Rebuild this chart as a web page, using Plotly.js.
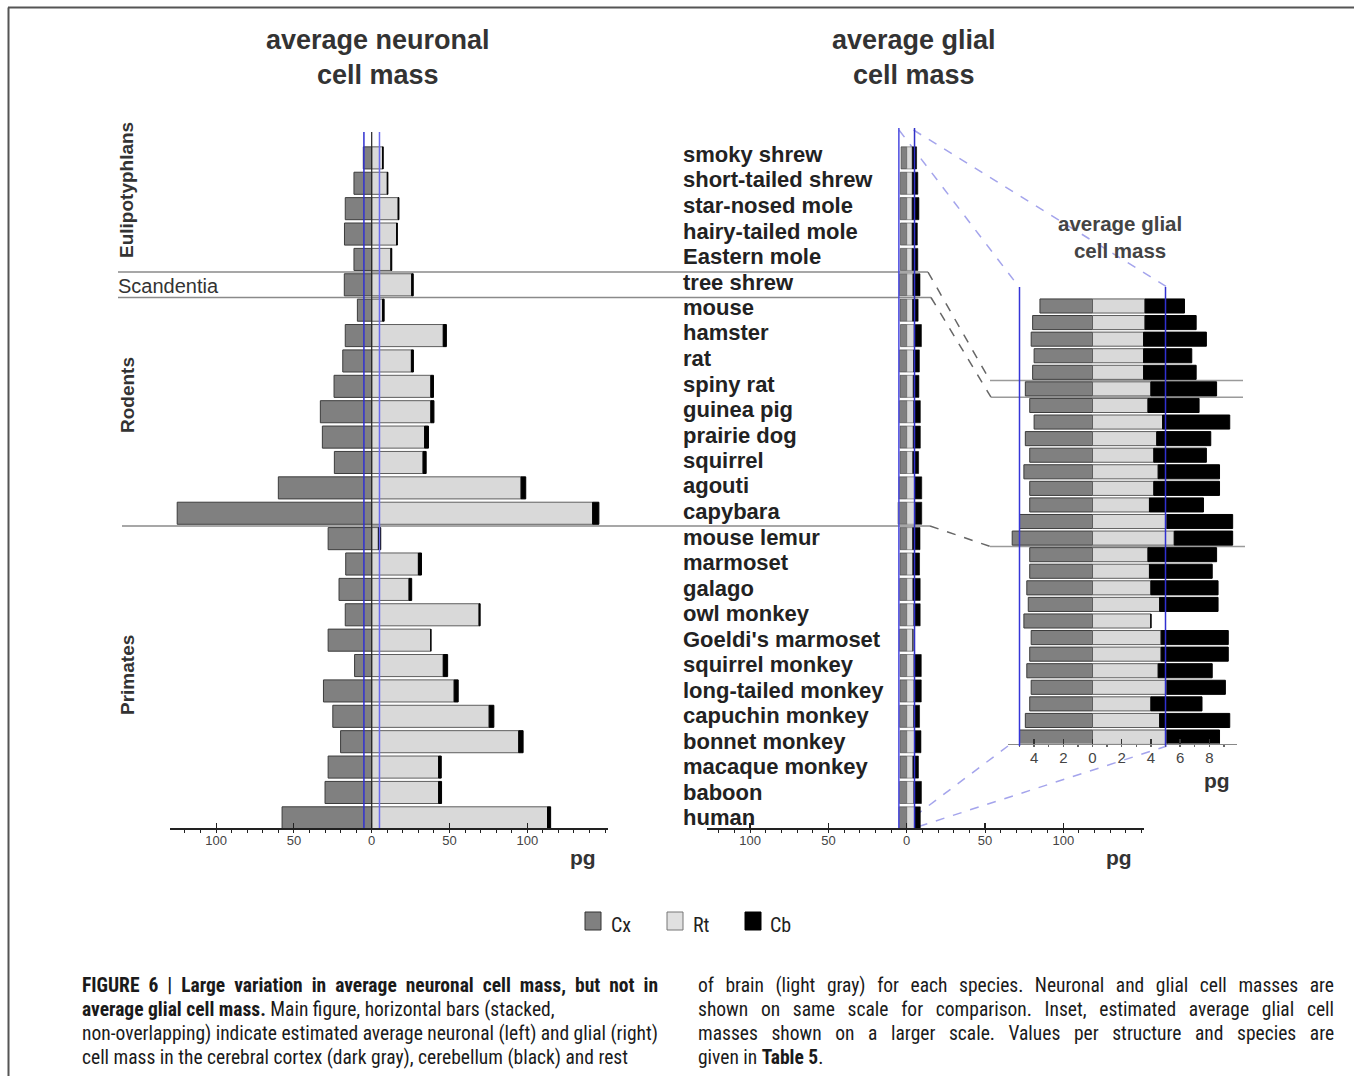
<!DOCTYPE html>
<html>
<head>
<meta charset="utf-8">
<script src="https://cdn.plot.ly/plotly-3.0.1.min.js"></script>
<style>
html,body{margin:0;padding:0;background:#fff;}
#chart{width:1354px;height:1076px;}
</style>
</head>
<body>
<div id="chart"></div>
<script>
// ---------------- DATA ----------------
const species = ['smoky shrew','short-tailed shrew','star-nosed mole','hairy-tailed mole','Eastern mole',
  'tree shrew','mouse','hamster','rat','spiny rat','guinea pig','prairie dog','squirrel','agouti','capybara',
  'mouse lemur','marmoset','galago','owl monkey',"Goeldi's marmoset",'squirrel monkey','long-tailed monkey',
  'capuchin monkey','bonnet monkey','macaque monkey','baboon','human'];

// average neuronal cell mass (pg)
const neuronCx = [5.4,11.4,17.0,17.5,11.4,17.6,9.2,17.0,18.6,24.2,33.0,31.7,24.0,60.0,125.0,28.0,16.7,21.0,17.0,28.0,11.0,31.0,25.0,20.0,28.0,30.0,57.6];
const neuronRt = [7.0,10.0,17.0,16.0,12.3,25.7,7.0,46.0,25.5,38.0,38.0,34.0,33.0,96.0,142.0,4.3,30.0,24.0,69.0,38.0,46.0,53.0,75.5,94.5,43.0,43.0,113.0];
const neuronCb = [0.4,0.4,0.5,0.5,0.6,1.0,1.0,2.0,1.3,1.7,2.0,2.5,2.0,3.0,4.0,1.5,2.0,1.7,0.7,0,2.8,2.6,3.0,2.8,1.7,1.9,2.0];

// average glial cell mass (pg)
const glialCx = [3.6,4.1,4.2,4.0,4.1,4.6,4.3,4.0,4.6,4.3,4.7,4.3,4.3,5.0,5.5,4.3,4.3,4.5,4.4,4.7,4.2,4.3,4.5,4.2,4.3,4.6,5.0];
const glialRt = [3.6,3.6,3.5,3.5,3.5,4.0,3.8,4.8,4.4,4.2,4.5,4.2,3.9,5.1,5.6,3.8,3.9,4.0,4.6,4.0,4.7,4.7,4.5,5.1,4.0,4.6,5.1];
const glialCb = [2.7,3.5,4.3,3.3,3.6,4.5,3.5,4.6,3.7,3.6,4.2,4.5,3.7,4.5,4.0,4.7,4.3,4.6,4.0,0,4.6,4.6,3.7,4.0,3.5,4.8,3.6];

const groups = [
  {name:'Eulipotyphlans', first:0, last:4},
  {name:'Scandentia', first:5, last:5},
  {name:'Rodents', first:6, last:14},
  {name:'Primates', first:15, last:26}
];

const mainTickVals = [-100,-50,0,50,100];
const mainTickText = ['100','50','0','50','100'];
const insetTickVals = [-4,-2,0,2,4,6,8];
const insetTickText = ['4','2','0','2','4','6','8'];
const legendNames = ['Cx','Rt','Cb'];
const zoomLimit = 5;   // the +/- 5 pg band shown in the inset

const captionLeft = [
  '<b>FIGURE 6 | Large variation in average neuronal cell mass, but not in</b>',
  '<b>average glial cell mass.</b> Main figure, horizontal bars (stacked,',
  'non-overlapping) indicate estimated average neuronal (left) and glial (right)',
  'cell mass in the cerebral cortex (dark gray), cerebellum (black) and rest'
];
const captionRight = [
  'of brain (light gray) for each species. Neuronal and glial cell masses are',
  'shown on same scale for comparison. Inset, estimated average glial cell',
  'masses shown on a larger scale. Values per structure and species are',
  'given in <b>Table 5</b>.'
];
const justifyLeft = [true,false,true,false];
const justifyRight = [true,true,true,false];

// ---------------- GEOMETRY / STYLE ----------------
const W = 1354, H = 1076;
const px = x => x / W;
const py = y => 1 - y / H;
const rows = species.map((s, i) => i);

const SANS = 'Liberation Sans, Arial, Helvetica, sans-serif';
const NARROW = 'Liberation Sans Narrow, Arial Narrow, Roboto Condensed, Liberation Sans, sans-serif';

const MAIN_TOP = 132, MAIN_BOT = 828, MAIN_RANGE = [26.4, -1.02];
const INSET_TOP = 287, INSET_BOT = 743.5, INSET_RANGE = [26.39, -1.146];
const mainRowY = p => MAIN_TOP + (p - MAIN_RANGE[1]) / (MAIN_RANGE[0] - MAIN_RANGE[1]) * (MAIN_BOT - MAIN_TOP);
const insetRowY = p => INSET_TOP + (p - INSET_RANGE[1]) / (INSET_RANGE[0] - INSET_RANGE[1]) * (INSET_BOT - INSET_TOP);

const COL_CX = '#808080', COL_CX_LINE = '#3c3c3c';
const COL_RT = '#d9d9d9', COL_RT_LINE = '#5e5e5e';
const COL_CB = '#000000';

function stack(cx, rt, cb, xa, ya, width, lw) {
  const common = {type:'bar', orientation:'h', y:rows, xaxis:xa, yaxis:ya, width:width, hoverinfo:'skip', showlegend:false};
  return [
    Object.assign({}, common, {name:legendNames[0], x:cx.map(v => -v), marker:{color:COL_CX, line:{color:COL_CX_LINE, width:lw}}}),
    Object.assign({}, common, {name:legendNames[1], x:rt, marker:{color:COL_RT, line:{color:COL_RT_LINE, width:lw}}}),
    Object.assign({}, common, {name:legendNames[2], x:cb, marker:{color:COL_CB, line:{color:COL_CB, width:lw}}})
  ];
}

const data = [].concat(
  stack(neuronCx, neuronRt, neuronCb, 'x', 'y', 0.87, 1),
  stack(glialCx, glialRt, glialCb, 'x2', 'y2', 0.87, 0.6),
  stack(glialCx, glialRt, glialCb, 'x3', 'y3', 0.85, 1)
);

function mainX(domL, domR, zeroPx, scale, anchor) {
  return {
    domain:[px(domL), px(domR)], range:[(domL - zeroPx) / scale, (domR - zeroPx) / scale], anchor:anchor,
    showline:true, linecolor:'#222', linewidth:1.5, showgrid:false, zeroline:false,
    ticks:'inside', ticklen:5, tickwidth:1.2, tickcolor:'#222',
    tickmode:'array', tickvals:mainTickVals, ticktext:mainTickText,
    tickfont:{family:SANS, size:13, color:'#444'},
    minor:{tickmode:'linear', tick0:0, dtick:10, ticks:'outside', ticklen:3, tickcolor:'#222', tickwidth:1, showgrid:false},
    fixedrange:true
  };
}
const mainYAxis = {domain:[py(MAIN_BOT), py(MAIN_TOP)], range:MAIN_RANGE, visible:false, fixedrange:true};

// ---------------- SHAPES ----------------
const shapes = [];
function seg(x0, y0, x1, y1, color, width, dash, layer) {
  shapes.push({type:'line', xref:'paper', yref:'paper', x0:px(x0), y0:py(y0), x1:px(x1), y1:py(y1),
    line:{color:color, width:width, dash:dash || 'solid'}, layer:layer || 'above'});
}
// frame (top + left)
seg(8, 7.5, W, 7.5, '#555', 2);
seg(8.5, 7.5, 8.5, H, '#555', 2);

// group separator lines (tree shrew block and rodent/primate split)
const sepLines = [
  {p:groups[1].first - 0.5, xl:118, xm:928, xi:990, xr:1243},
  {p:groups[1].last + 0.5, xl:118, xm:931, xi:991, xr:1243},
  {p:groups[3].first - 0.5, xl:122, xm:930, xi:990, xr:1245}
];
sepLines.forEach(s => {
  const ym = mainRowY(s.p), yi = insetRowY(s.p);
  seg(s.xl, ym, s.xm, ym, '#8a8a8a', 1.5, 'solid', 'below');
  seg(s.xm, ym, s.xi, yi, '#666', 1.5, 'dash', 'below');
  seg(s.xi, yi, s.xr, yi, '#9a9a9a', 1.5, 'solid', 'below');
});

// lavender zoom connector lines
const LAV = '#a4a4ec';
seg(913.5, 130, 1167, INSET_TOP, LAV, 1.5, 'dash', 'below');
seg(899, 130, 1019, INSET_TOP, LAV, 1.5, 'dash', 'below');
seg(1008, 746, 899, 828, LAV, 1.5, 'dash', 'below');
seg(1167, 746, 914, 828, LAV, 1.5, 'dash', 'below');

// +/- 5 pg band markers
function band(xref, y0, y1, cL, cR) {
  shapes.push({type:'line', xref:xref, yref:'paper', x0:-zoomLimit, x1:-zoomLimit, y0:py(y1), y1:py(y0), line:{color:cL, width:1.5}, layer:'above'});
  shapes.push({type:'line', xref:xref, yref:'paper', x0:zoomLimit, x1:zoomLimit, y0:py(y1), y1:py(y0), line:{color:cR, width:1.5}, layer:'above'});
}
band('x', MAIN_TOP, MAIN_BOT, '#3030d0', '#6b6bef');
shapes.push({type:'line', xref:'x', yref:'paper', x0:0, x1:0, y0:py(MAIN_BOT), y1:py(MAIN_TOP), line:{color:'#222', width:1.2}, layer:'above'});
band('x2', 128, MAIN_BOT, '#4a4ae0', '#3030c8');
band('x3', INSET_TOP, 746, '#3535d8', '#3030d0');

// legend swatches
const legendX = [585, 667, 745];
const legendFill = [COL_CX, '#e0e0e0', COL_CB];
const legendLine = ['#333', '#777', '#000'];
legendNames.forEach((n, i) => {
  shapes.push({type:'rect', xref:'paper', yref:'paper', x0:px(legendX[i]), x1:px(legendX[i] + 16), y0:py(930), y1:py(912),
    fillcolor:legendFill[i], line:{color:legendLine[i], width:1}, layer:'above'});
});

// ---------------- ANNOTATIONS ----------------
const annotations = [];
function ann(o) { annotations.push(Object.assign({xref:'paper', yref:'paper', showarrow:false}, o)); return annotations.length - 1; }

ann({x:px(378), y:py(57), text:'<b>average neuronal<br>cell mass</b>', xanchor:'center', yanchor:'middle',
  font:{family:SANS, size:27, color:'#333'}});
ann({x:px(914), y:py(57), text:'<b>average glial<br>cell mass</b>', xanchor:'center', yanchor:'middle',
  font:{family:SANS, size:27, color:'#333'}});
ann({x:px(1120), y:py(237), text:'<b>average glial<br>cell mass</b>', xanchor:'center', yanchor:'middle',
  font:{family:SANS, size:20.5, color:'#444'}});

species.forEach((s, i) => {
  ann({x:px(681), y:py(154.5 + 25.5 * i), text:'<b>' + s + '</b>', xanchor:'left', yanchor:'middle', align:'left',
    font:{family:SANS, size:22, color:'#222'}});
});

// group labels
const groupCenters = {Eulipotyphlans:190, Rodents:395, Primates:675};
groups.forEach(g => {
  if (g.name === 'Scandentia') {
    ann({x:px(116), y:py(286), text:g.name, xanchor:'left', yanchor:'middle', align:'left',
      font:{family:SANS, size:20, color:'#333'}});
  } else {
    ann({x:px(127), y:py(groupCenters[g.name]), text:'<b>' + g.name + '</b>', textangle:-90, xanchor:'center', yanchor:'middle',
      font:{family:SANS, size:19, color:'#333'}});
  }
});

// units
ann({x:px(583), y:py(857), text:'<b>pg</b>', xanchor:'center', yanchor:'middle', font:{family:SANS, size:21, color:'#333'}});
ann({x:px(1119), y:py(857), text:'<b>pg</b>', xanchor:'center', yanchor:'middle', font:{family:SANS, size:21, color:'#333'}});
ann({x:px(1217), y:py(780), text:'<b>pg</b>', xanchor:'center', yanchor:'middle', font:{family:SANS, size:21, color:'#333'}});

// legend labels
const legendTextX = [611, 693, 770];
legendNames.forEach((n, i) => {
  ann({x:px(legendTextX[i] - 2), y:py(925), text:n, xanchor:'left', yanchor:'middle', align:'left',
    font:{family:NARROW, size:20, color:'#222'}});
});

// caption
const justifyList = [];
const capY = [985, 1009, 1033, 1057];
captionLeft.forEach((t, i) => {
  const k = ann({x:px(80), y:py(capY[i]), text:t, xanchor:'left', yanchor:'middle', align:'left',
    font:{family:NARROW, size:19.5, color:'#1a1a1a'}});
  if (justifyLeft[i]) justifyList.push({index:k, width:576});
});
captionRight.forEach((t, i) => {
  const k = ann({x:px(696), y:py(capY[i]), text:t, xanchor:'left', yanchor:'middle', align:'left',
    font:{family:NARROW, size:19.5, color:'#1a1a1a'}});
  if (justifyRight[i]) justifyList.push({index:k, width:636});
});

// ---------------- LAYOUT ----------------
const layout = {
  width:W, height:H, margin:{l:0, r:0, t:0, b:0},
  paper_bgcolor:'#ffffff', plot_bgcolor:'rgba(0,0,0,0)',
  barmode:'relative', bargap:0, showlegend:false,
  xaxis: mainX(170, 608, 371.7, 1.556, 'y'),
  yaxis: Object.assign({}, mainYAxis),
  xaxis2: mainX(706.7, 1144, 906.7, 1.566, 'y2'),
  yaxis2: Object.assign({}, mainYAxis),
  xaxis3: {
    domain:[px(1008), px(1237)], range:[(1008 - 1092.5) / 14.6, (1237 - 1092.5) / 14.6], anchor:'y3',
    showline:true, linecolor:'#888', linewidth:1, showgrid:false, zeroline:false,
    ticks:'inside', ticklen:5, tickwidth:1.2, tickcolor:'#333',
    tickmode:'array', tickvals:insetTickVals, ticktext:insetTickText,
    tickfont:{family:SANS, size:15, color:'#444'},
    minor:{tickmode:'linear', tick0:0, dtick:1, ticks:'outside', ticklen:2, tickcolor:'#666', showgrid:false},
    fixedrange:true
  },
  yaxis3: {domain:[py(INSET_BOT), py(INSET_TOP)], range:INSET_RANGE, visible:false, fixedrange:true},
  shapes:shapes,
  annotations:annotations,
  font:{family:SANS}
};

Plotly.newPlot('chart', data, layout, {staticPlot:true, displayModeBar:false}).then(gd => {
  justifyList.forEach(j => {
    const g = gd.querySelector('g.annotation[data-index="' + j.index + '"]');
    if (!g) return;
    const t = g.querySelector('text.annotation-text');
    if (!t) return;
    const w = t.getComputedTextLength();
    const n = (t.textContent.match(/[ \u00a0]/g) || []).length;
    if (n > 0) t.setAttribute('word-spacing', ((j.width - w) / n).toFixed(2));
  });
});
</script>
</body>
</html>
